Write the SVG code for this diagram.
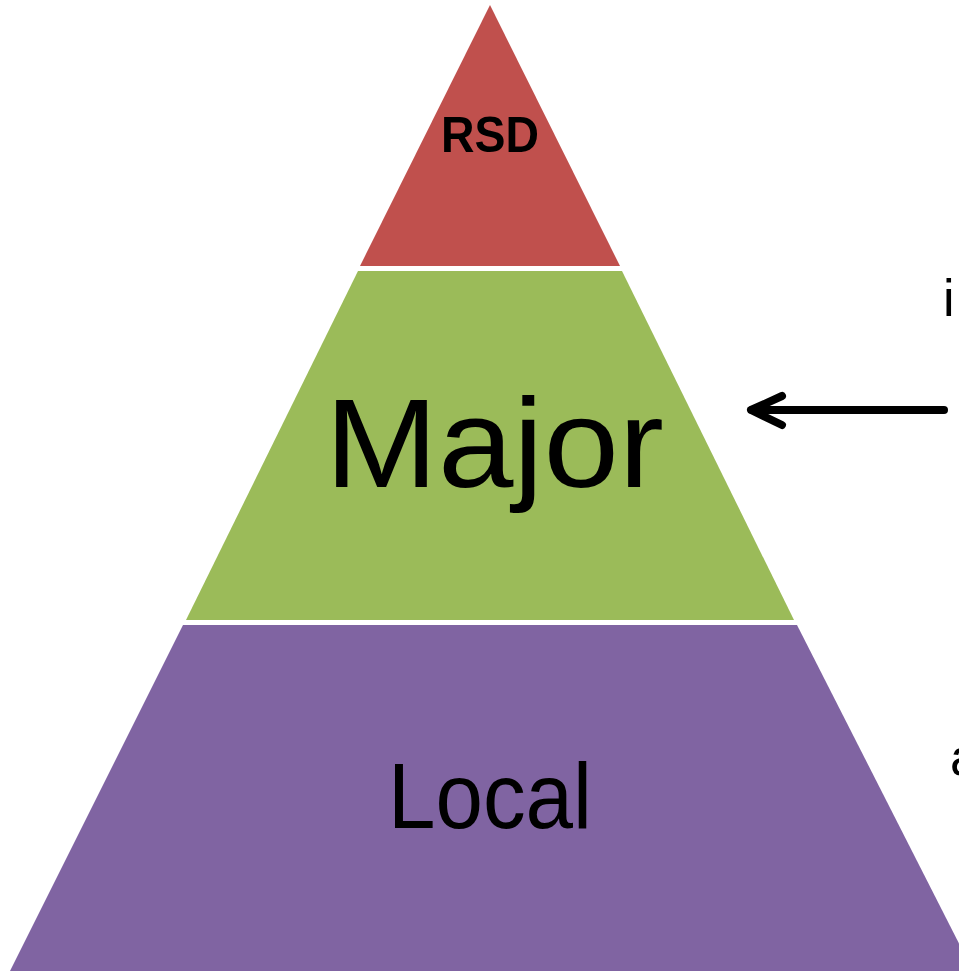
<svg xmlns="http://www.w3.org/2000/svg" width="959" height="971" viewBox="0 0 959 971">
  <style>
    .lbl { font-family: "Liberation Sans", Arial, sans-serif; fill: #000; }
    .arrow { fill: none; stroke: #000; stroke-width: 8; stroke-linecap: round; stroke-linejoin: round; }
  </style>
  <rect width="959" height="971" fill="#fff"/>
  <g id="rsd">
    <polygon points="490,5 620,266 360,266" fill="#C0504D"/>
    <text class="lbl" x="490" y="152" font-size="50" font-weight="bold" text-anchor="middle" textLength="98" lengthAdjust="spacingAndGlyphs">RSD</text>
  </g>
  <g id="major">
    <polygon points="358,271 622,271 794,620 186,620" fill="#9BBB59"/>
    <text class="lbl" x="494.5" y="487" font-size="126" text-anchor="middle" textLength="339" lengthAdjust="spacingAndGlyphs">Major</text>
  </g>
  <g id="local">
    <polygon points="183,625 797,625 973,971 10,971" fill="#8064A2"/>
    <text class="lbl" x="490" y="828" font-size="92" text-anchor="middle" textLength="204" lengthAdjust="spacingAndGlyphs">Local</text>
  </g>
  <g id="side-labels">
    <text class="lbl" x="943" y="316" font-size="52">i</text>
    <text class="lbl" x="950" y="775" font-size="52">a</text>
  </g>
  <g id="connectors">
    <line class="arrow" x1="944" y1="410" x2="752" y2="410"/>
    <polyline class="arrow" points="782,396 751,410 782,425"/>
  </g>
</svg>
